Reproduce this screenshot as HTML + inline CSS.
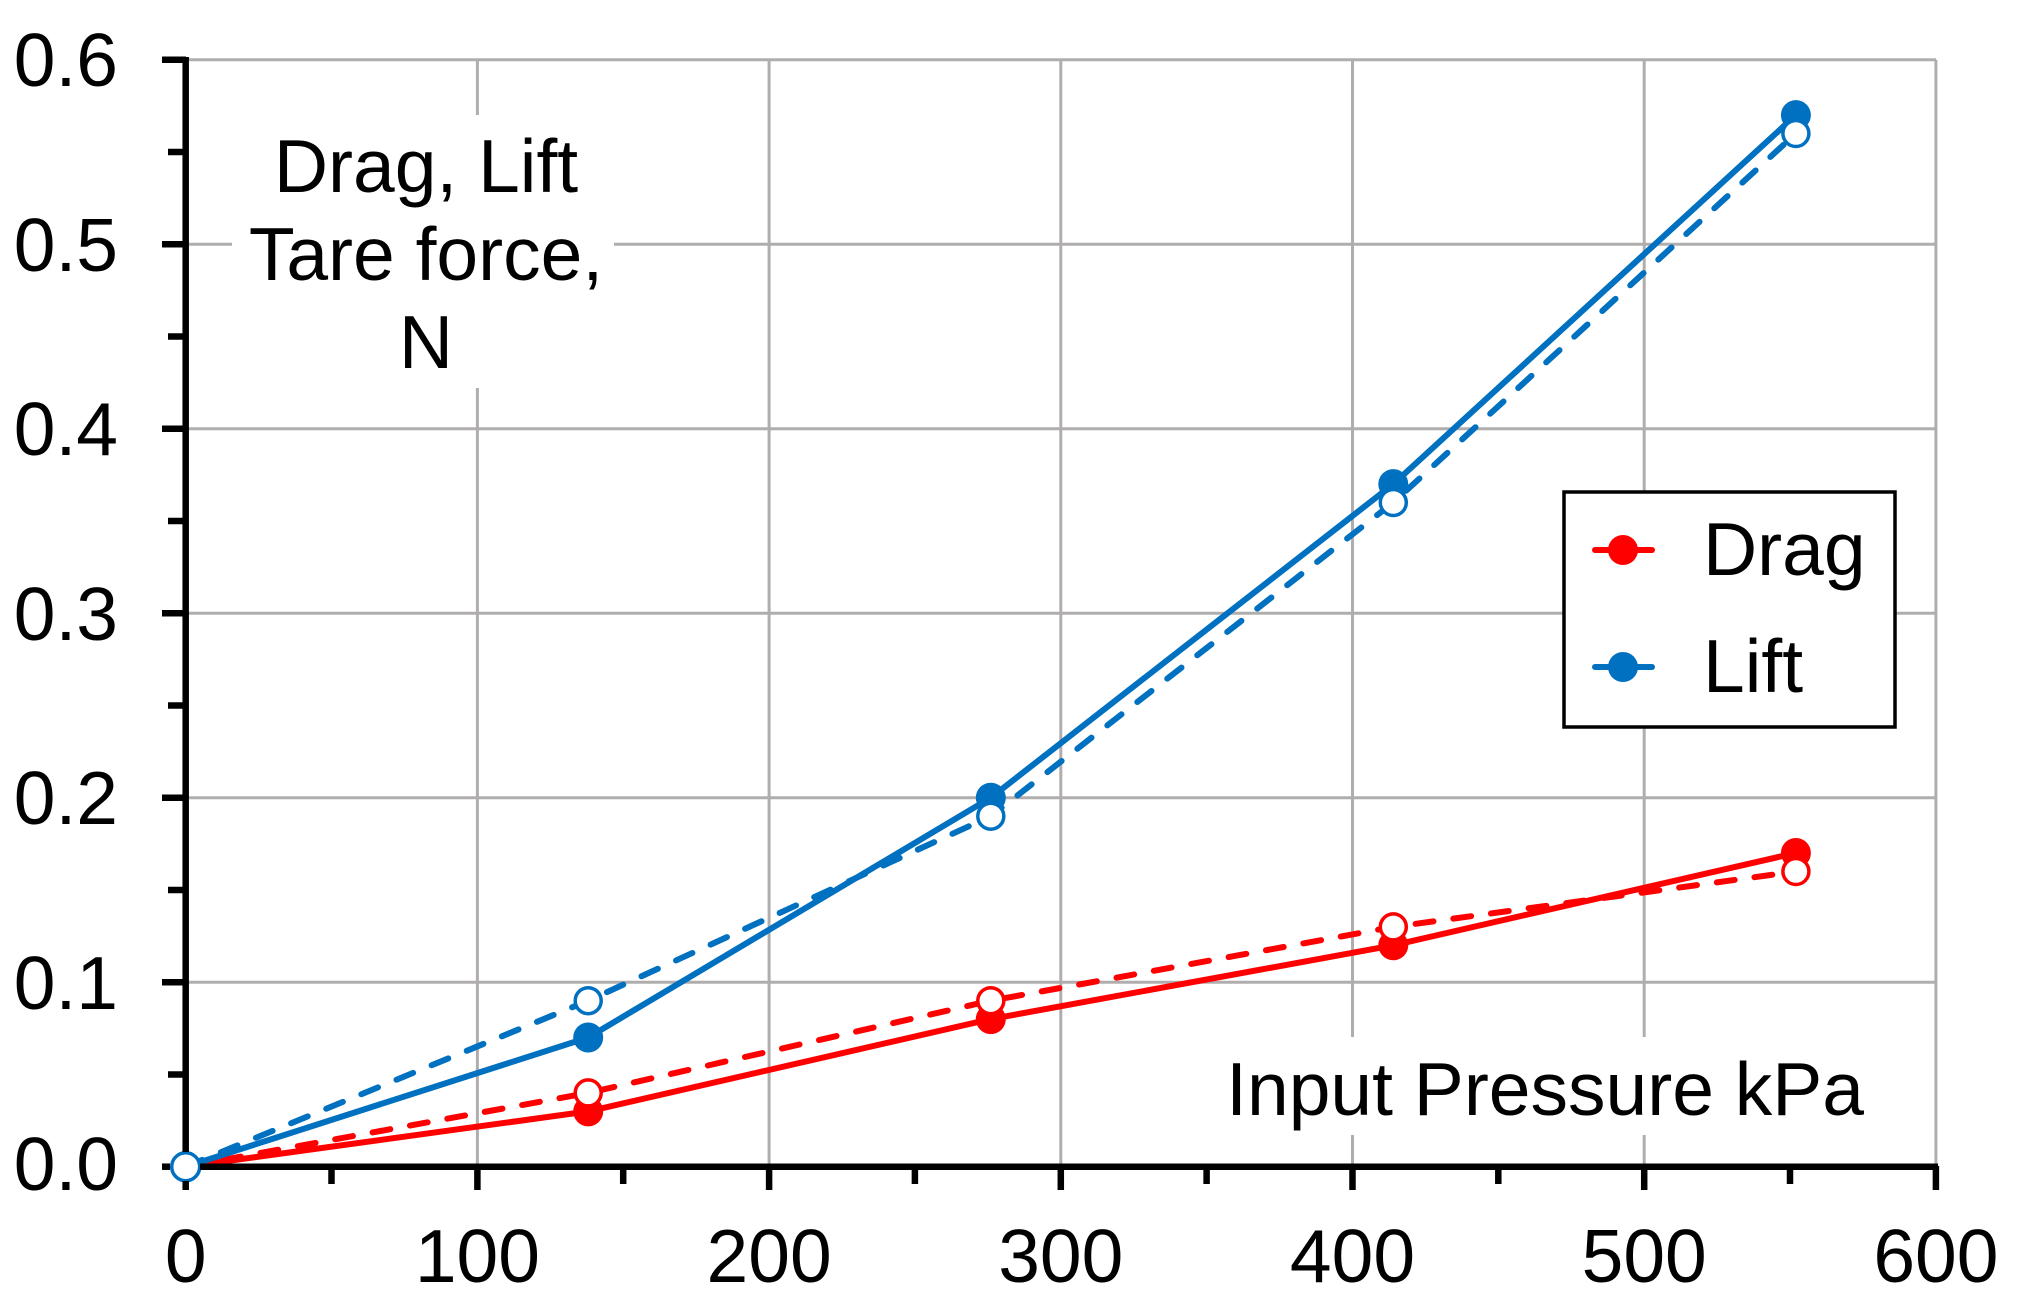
<!DOCTYPE html>
<html><head><meta charset="utf-8"><style>
html,body{margin:0;padding:0;background:#fff;}
svg{display:block;}
text{font-family:"Liberation Sans",Arial,sans-serif;fill:#000;}
</style></head><body>
<svg width="2018" height="1303" viewBox="0 0 2018 1303" xmlns="http://www.w3.org/2000/svg">
<rect width="2018" height="1303" fill="#fff"/>
<g stroke="#b0adad" stroke-width="3">
<line x1="186" y1="59.7" x2="1936" y2="59.7"/>
<line x1="186" y1="244.2" x2="1936" y2="244.2"/>
<line x1="186" y1="428.7" x2="1936" y2="428.7"/>
<line x1="186" y1="613.2" x2="1936" y2="613.2"/>
<line x1="186" y1="797.7" x2="1936" y2="797.7"/>
<line x1="186" y1="982.2" x2="1936" y2="982.2"/>
<line x1="477.4" y1="59.7" x2="477.4" y2="1167"/>
<line x1="769.1" y1="59.7" x2="769.1" y2="1167"/>
<line x1="1060.8" y1="59.7" x2="1060.8" y2="1167"/>
<line x1="1352.5" y1="59.7" x2="1352.5" y2="1167"/>
<line x1="1644.2" y1="59.7" x2="1644.2" y2="1167"/>
<line x1="1935.9" y1="59.7" x2="1935.9" y2="1167"/>
</g>
<rect x="232" y="115" width="382" height="273" fill="#fff"/>
<rect x="1205" y="1037" width="670" height="98" fill="#fff"/>
<g font-size="75" text-anchor="middle">
<text x="426" y="192">Drag, Lift</text>
<text x="426" y="280">Tare force,</text>
<text x="426" y="368">N</text>
</g>
<text x="1864" y="1115" font-size="75" text-anchor="end">Input Pressure kPa</text>
<g fill="none" stroke-width="6" stroke-linecap="round" stroke-linejoin="round">
<polyline stroke="#ff0000" points="185.7,1166.7 588.2,1111.4 990.8,1019.1 1393.3,945.3 1795.9,853"/>
<polyline stroke="#ff0000" stroke-dasharray="18 20" points="185.7,1166.7 588.2,1092.9 990.8,1000.7 1393.3,926.9 1795.9,871.5"/>
<polyline stroke="#0070c0" points="185.7,1166.7 588.2,1037.5 990.8,797.7 1393.3,484.1 1795.9,115.1"/>
<polyline stroke="#0070c0" stroke-dasharray="18 20" points="185.7,1166.7 588.2,1000.7 990.8,816.2 1393.3,502.5 1795.9,133.5"/>
</g>
<g fill="#ff0000">
<circle cx="588.2" cy="1111.4" r="15"/><circle cx="990.8" cy="1019.1" r="15"/><circle cx="1393.3" cy="945.3" r="15"/><circle cx="1795.9" cy="853" r="15"/>
</g>
<g fill="#0070c0">
<circle cx="588.2" cy="1037.5" r="15"/><circle cx="990.8" cy="797.7" r="15"/><circle cx="1393.3" cy="484.1" r="15"/><circle cx="1795.9" cy="115.1" r="15"/>
</g>
<g fill="#fff" stroke="#ff0000" stroke-width="3.5">
<circle cx="588.2" cy="1092.9" r="13"/><circle cx="990.8" cy="1000.7" r="13"/><circle cx="1393.3" cy="926.9" r="13"/><circle cx="1795.9" cy="871.5" r="13"/>
</g>
<g fill="#fff" stroke="#0070c0" stroke-width="3.5">
<circle cx="185.7" cy="1166.7" r="14"/>
<circle cx="588.2" cy="1000.7" r="13"/><circle cx="990.8" cy="816.2" r="13"/><circle cx="1393.3" cy="502.5" r="13"/><circle cx="1795.9" cy="133.5" r="13"/>
</g>
<g stroke="#000" stroke-width="6.5">
<line x1="185.7" y1="57" x2="185.7" y2="1152"/>
<line x1="200" y1="1166.7" x2="1938" y2="1166.7"/>
<line x1="162" y1="59.7" x2="186" y2="59.7"/>
<line x1="162" y1="244.2" x2="186" y2="244.2"/>
<line x1="162" y1="428.7" x2="186" y2="428.7"/>
<line x1="162" y1="613.2" x2="186" y2="613.2"/>
<line x1="162" y1="797.7" x2="186" y2="797.7"/>
<line x1="162" y1="982.2" x2="186" y2="982.2"/>
<line x1="162" y1="1166.7" x2="170" y2="1166.7"/>
<line x1="168" y1="152" x2="186" y2="152"/>
<line x1="168" y1="336.5" x2="186" y2="336.5"/>
<line x1="168" y1="521" x2="186" y2="521"/>
<line x1="168" y1="705.5" x2="186" y2="705.5"/>
<line x1="168" y1="890" x2="186" y2="890"/>
<line x1="168" y1="1074.5" x2="186" y2="1074.5"/>
<line x1="185.7" y1="1181" x2="185.7" y2="1190"/>
<line x1="477.4" y1="1166" x2="477.4" y2="1190"/>
<line x1="769.1" y1="1166" x2="769.1" y2="1190"/>
<line x1="1060.8" y1="1166" x2="1060.8" y2="1190"/>
<line x1="1352.5" y1="1166" x2="1352.5" y2="1190"/>
<line x1="1644.2" y1="1166" x2="1644.2" y2="1190"/>
<line x1="1935.9" y1="1166" x2="1935.9" y2="1190"/>
<line x1="331.5" y1="1166" x2="331.5" y2="1184"/>
<line x1="623.2" y1="1166" x2="623.2" y2="1184"/>
<line x1="914.9" y1="1166" x2="914.9" y2="1184"/>
<line x1="1206.6" y1="1166" x2="1206.6" y2="1184"/>
<line x1="1498.3" y1="1166" x2="1498.3" y2="1184"/>
<line x1="1790" y1="1166" x2="1790" y2="1184"/>
</g>
<g font-size="75" text-anchor="end">
<text x="118" y="86">0.6</text>
<text x="118" y="271">0.5</text>
<text x="118" y="455">0.4</text>
<text x="118" y="640">0.3</text>
<text x="118" y="824">0.2</text>
<text x="118" y="1009">0.1</text>
<text x="118" y="1190">0.0</text>
</g>
<g font-size="75" text-anchor="middle">
<text x="185.7" y="1282">0</text>
<text x="477.4" y="1282">100</text>
<text x="769.1" y="1282">200</text>
<text x="1060.8" y="1282">300</text>
<text x="1352.5" y="1282">400</text>
<text x="1644.2" y="1282">500</text>
<text x="1935.9" y="1282">600</text>
</g>
<rect x="1564" y="492" width="331" height="235" fill="#fff" stroke="#000" stroke-width="3.5"/>
<line x1="1595" y1="550" x2="1652" y2="550" stroke="#ff0000" stroke-width="6" stroke-linecap="round"/>
<circle cx="1623" cy="550" r="15" fill="#ff0000"/>
<line x1="1595" y1="667" x2="1652" y2="667" stroke="#0070c0" stroke-width="6" stroke-linecap="round"/>
<circle cx="1623" cy="667" r="15" fill="#0070c0"/>
<text x="1703" y="575" font-size="75">Drag</text>
<text x="1703" y="692" font-size="75">Lift</text>
</svg>
</body></html>
